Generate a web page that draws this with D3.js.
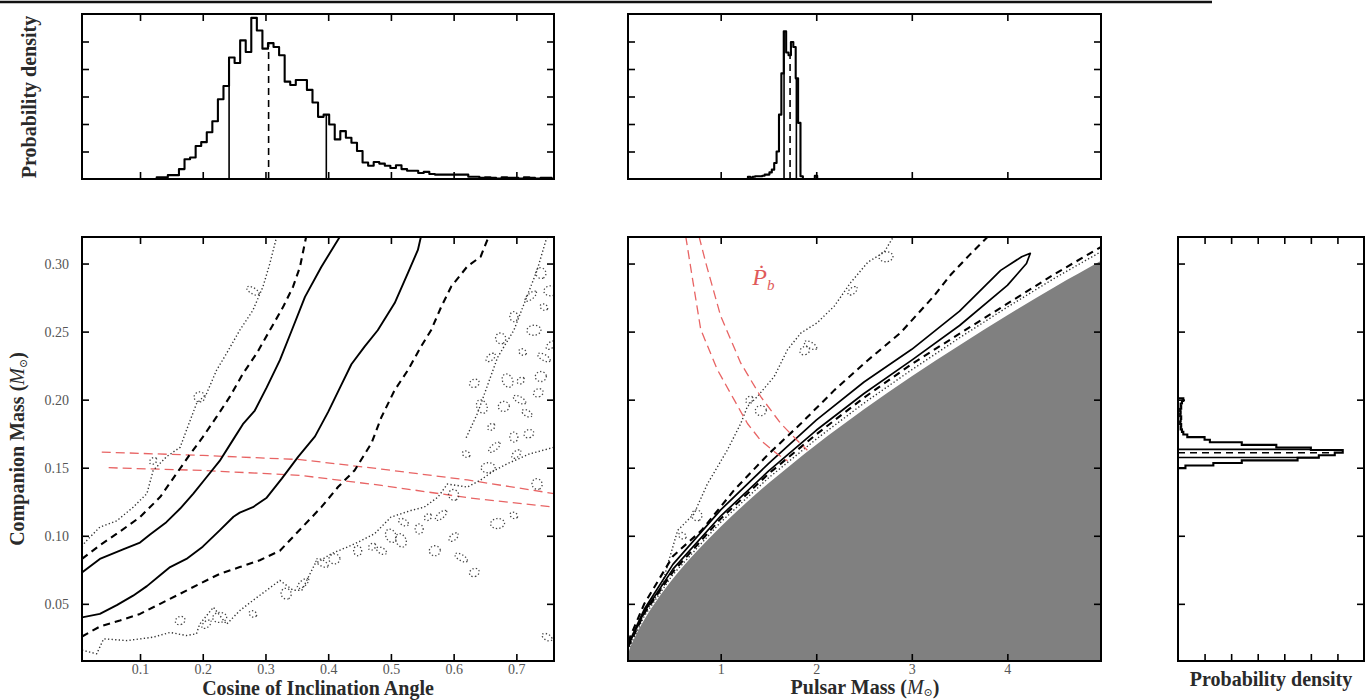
<!DOCTYPE html>
<html>
<head>
<meta charset="utf-8">
<script src="https://cdn.jsdelivr.net/npm/d3@7"></script>
<style>
body { margin: 0; background: #fff; }
svg text { font-family: "Liberation Serif", "DejaVu Serif", serif; }
</style>
</head>
<body>
<div id="plot"></div>
<script>
// ---- tick values ----
var cos_ticks = [0.1, 0.2, 0.3, 0.4, 0.5, 0.6, 0.7];
var mc_ticks = [0.05, 0.10, 0.15, 0.20, 0.25, 0.30];
var mp_ticks = [1, 2, 3, 4];
var dens_ticks_top = [1, 2, 3, 4, 5];
var dens_ticks_right = [1, 2, 3, 4, 5, 6];

// ---- histograms (equal bins: start, width, heights) ----
var cos_hist_start = 0.1266, cos_hist_width = 0.00887;
var cos_hist_values = [0.06,0.06,0.14,0.14,0.36,0.72,0.78,1.2,1.34,1.7,2.1,2.9,3.38,4.42,4.22,5.04,4.62,5.86,5.4,4.74,
    4.94,4.8,4.5,3.54,3.42,3.6,3.6,3.24,2.78,2.26,2.34,1.98,1.44,1.74,1.5,1.32,1.02,0.6,0.48,0.62,
    0.56,0.48,0.4,0.5,0.36,0.3,0.3,0.22,0.26,0.18,0.16,0.16,0.16,0.16,0.16,0.16,0.08,0.08,0.04,0.06,
    0.04,0.02,0.06,0.04,0.04,0.02,0.06,0.04,0.02,0.04,0.04];
var cos_interval = [0.242, 0.305, 0.397];

var mp_hist_start = 1.285, mp_hist_width = 0.025;
var mp_hist_values = [0.08,0.05,0.08,0.1,0.1,0.1,0.12,0.16,0.16,0.24,0.34,0.58,1.0,2.34,3.84,5.37,4.6,4.5,4.98,4.8,
    3.66,2.04,0.1,0,0,0,0,0,0.12];
var mp_interval = [1.663, 1.726, 1.792];

var mc_hist_start = 0.1497, mc_hist_width = 0.0019;
var mc_hist_values = [0.28,1.33,2.4,4.5,5.3,5.9,6.2,5.0,3.7,2.4,1.2,1.0,0.35,0.2,
    0.15,0.1,0.12,0.08,0.1,0.12,0.08,0.1,0.08,0.12,0.1,0.15,0.2];
var mc_interval = [0.1575, 0.161, 0.1635];

// ---- cos i vs companion mass contours ----
var left_solid_a = [[0.0075,0.073],[0.036,0.083],[0.073,0.09],[0.1,0.095],[0.116,0.101],[0.142,0.11],[0.164,0.12],
    [0.185,0.131],[0.206,0.143],[0.227,0.155],[0.249,0.171],[0.264,0.182],[0.283,0.192],[0.302,0.209],[0.323,0.229],
    [0.342,0.251],[0.363,0.2755],[0.389,0.2975],[0.419,0.32]];
var left_solid_b = [[0.0075,0.04],[0.036,0.0426],[0.063,0.049],[0.089,0.056],[0.111,0.063],[0.132,0.071],[0.148,0.077],
    [0.174,0.083],[0.2,0.092],[0.227,0.104],[0.249,0.114],[0.259,0.117],[0.28,0.121],[0.302,0.128],[0.326,0.142],
    [0.352,0.158],[0.379,0.173],[0.4,0.191],[0.419,0.209],[0.437,0.226],[0.458,0.239],[0.479,0.251],[0.506,0.271],
    [0.527,0.293],[0.543,0.31],[0.548,0.32]];
var left_dash_a = [[0.0075,0.083],[0.036,0.093],[0.063,0.1015],[0.1,0.1137],[0.132,0.1284],[0.158,0.1456],[0.18,0.16],
    [0.2,0.1725],[0.222,0.1873],[0.243,0.202],[0.264,0.219],[0.286,0.234],[0.307,0.251],[0.328,0.268],[0.344,0.283],
    [0.355,0.2975],[0.365,0.32]];
var left_dash_b = [[0.0075,0.026],[0.036,0.0333],[0.068,0.0377],[0.1,0.0426],[0.132,0.05],[0.164,0.0574],[0.195,0.0647],
    [0.227,0.072],[0.259,0.077],[0.291,0.082],[0.323,0.089],[0.358,0.106],[0.389,0.121],[0.416,0.136],[0.442,0.148],
    [0.469,0.168],[0.485,0.1873],[0.506,0.207],[0.527,0.2216],[0.548,0.239],[0.564,0.251],[0.58,0.268],[0.596,0.283],
    [0.622,0.298],[0.643,0.305],[0.656,0.32]];
var left_dot_a = [[0.0075,0.092],[0.0125,0.0953],[0.036,0.1064],[0.063,0.111],[0.089,0.121],[0.111,0.131],[0.121,0.148],
    [0.142,0.158],[0.164,0.165],[0.174,0.1775],[0.19,0.197],[0.206,0.2044],[0.222,0.2216],[0.238,0.234],[0.259,0.251],
    [0.28,0.2657],[0.296,0.283],[0.307,0.30],[0.318,0.32]];
var left_dot_b = [[0.0075,0.016],[0.02,0.0145],[0.031,0.0133],[0.042,0.0243],[0.079,0.023],[0.121,0.0255],[0.148,0.029],
    [0.174,0.0267],[0.19,0.028],[0.195,0.035],[0.217,0.0475],[0.238,0.035],[0.259,0.045],[0.28,0.0525],[0.302,0.06],
    [0.323,0.0672],[0.344,0.06],[0.358,0.06],[0.379,0.0794],[0.405,0.0868],[0.442,0.094],[0.474,0.1015],[0.5,0.1137],
    [0.532,0.1186],[0.553,0.121],[0.575,0.1284],[0.59,0.138],[0.622,0.1358],[0.643,0.141],[0.665,0.148],[0.686,0.153],
    [0.72,0.16],[0.76,0.165]];
var left_dot_c = [[0.62,0.172],[0.638,0.19],[0.67,0.231],[0.696,0.251],[0.733,0.295],[0.749,0.32]];
var left_blobs = [[0.121,0.155],[0.195,0.202],[0.28,0.28],[0.164,0.0377],[0.206,0.035],[0.227,0.04],[0.28,0.0426],
    [0.333,0.0574],[0.36,0.065],[0.447,0.089],[0.485,0.089],[0.516,0.0966],[0.559,0.1137],[0.57,0.089],[0.612,0.084],
    [0.633,0.073],[0.6,0.099],[0.67,0.109],[0.696,0.115],[0.733,0.138],[0.665,0.165],[0.696,0.1725],[0.717,0.19],
    [0.686,0.214],[0.707,0.214],[0.739,0.217],[0.744,0.231],[0.633,0.212],[0.659,0.231],[0.728,0.251],[0.744,0.268],
    [0.739,0.293],[0.723,0.276],[0.696,0.261],[0.749,0.0255],
    [0.645,0.195],[0.66,0.18],[0.68,0.195],[0.705,0.2],[0.72,0.175],[0.7,0.16],[0.655,0.15],[0.62,0.16],[0.6,0.13],
    [0.58,0.115],[0.545,0.105],[0.52,0.11],[0.5,0.1],[0.47,0.092],[0.41,0.083],[0.39,0.08],[0.735,0.205],[0.755,0.24],
    [0.755,0.28],[0.71,0.235],[0.675,0.245]];
var left_red_a = [[0.039,0.1615],[0.2,0.159],[0.355,0.156],[0.485,0.149],[0.622,0.141],[0.76,0.131]];
var left_red_b = [[0.05,0.15],[0.2,0.148],[0.355,0.1444],[0.485,0.137],[0.622,0.128],[0.76,0.121]];

// ---- pulsar mass vs companion mass ----
var mid_bound = [[0,0],[0.03,0.012],[0.1,0.025],[0.2,0.0383],[0.35,0.0545],[0.5,0.0684],[0.75,0.0886],[1.0,0.1067],
    [1.25,0.1232],[1.5,0.1386],[1.75,0.153],[2.0,0.1669],[2.5,0.193],[3.0,0.2172],[3.5,0.240],[4.0,0.262],[4.5,0.283],
    [4.98,0.302],[5.1,0.307]];
var mid_dot_b = [[0.03,0.016],[0.2,0.041],[0.5,0.0715],[1.0,0.110],[1.5,0.1425],[2.0,0.171],[2.5,0.1975],[3.0,0.222],
    [3.5,0.2455],[4.0,0.268],[4.5,0.2895],[5.0,0.3095]];
var mid_dash_b = [[0.03,0.018],[0.2,0.043],[0.5,0.0735],[1.0,0.1125],[1.5,0.1455],[2.0,0.1745],[2.5,0.2015],[3.0,0.2262],
    [3.5,0.2485],[4.0,0.2705],[4.5,0.2925],[5.0,0.313]];
var mid_solid = [[0.03,0.02],[0.2,0.046],[0.5,0.079],[1.0,0.119],[1.5,0.153],[2.0,0.185],[2.5,0.213],[3.0,0.237],
    [3.5,0.265],[3.93,0.295],[4.15,0.305],[4.24,0.3075],[4.2,0.300],[4.0,0.284],[3.5,0.2545],[3.0,0.229],[2.5,0.2045],
    [2.0,0.1775],[1.5,0.1475],[1.0,0.1145],[0.5,0.0755],[0.2,0.044],[0.03,0.019]];
var mid_dash_a = [[0.03,0.022],[0.2,0.05],[0.5,0.085],[0.8,0.104],[1.14,0.1335],[1.5,0.16],[1.84,0.1825],[2.19,0.207],
    [2.54,0.229],[2.88,0.249],[3.23,0.276],[3.41,0.292],[3.6,0.306],[3.8,0.32]];
var mid_dot_a = [[0.03,0.02],[0.058,0.024],[0.2,0.043],[0.37,0.06],[0.45,0.08],[0.55,0.104],[0.72,0.116],[0.86,0.138],
    [1.07,0.163],[1.21,0.1825],[1.28,0.195],[1.38,0.202],[1.56,0.217],[1.7,0.2368],[1.84,0.249],[2.01,0.2565],
    [2.19,0.2688],[2.36,0.286],[2.54,0.301],[2.71,0.3083],[2.81,0.32]];
var mid_blobs = [[1.3,0.2],[1.42,0.192],[1.94,0.24],[1.88,0.236],[2.38,0.28],[2.73,0.305],[0.6,0.1],[0.75,0.115]];
var pb_dot_a = [[0.634,0.32],[0.7,0.291],[0.791,0.2516],[0.965,0.222],[1.14,0.20],[1.28,0.1825],[1.419,0.170],
    [1.593,0.160],[1.70,0.155]];
var pb_dot_b = [[0.773,0.32],[0.85,0.299],[1.0,0.2614],[1.209,0.227],[1.419,0.2022],[1.628,0.1825],[1.802,0.170],
    [1.907,0.1628]];
var pb_label_at = [1.33, 0.284];

// ---- layout ----
var W = 1370, H = 700;
var box_left = {x0: 82, x1: 554, y0: 237, y1: 661};
var box_mid = {x0: 628, x1: 1101, y0: 237, y1: 661};
var box_right = {x0: 1178, x1: 1364, y0: 237, y1: 661};
var box_top_left = {x0: 82, x1: 554, y0: 14, y1: 179};
var box_top_mid = {x0: 628, x1: 1101, y0: 14, y1: 179};

var svg = d3.select("div#plot").append("svg")
    .attr("width", W).attr("height", H)
    .attr("viewBox", "0 0 " + W + " " + H);

var x_cos = d3.scaleLinear().domain([0.0075, 0.76]).range([box_left.x0, box_left.x1]);
var x_mp = d3.scaleLinear().domain([0.03, 4.98]).range([box_mid.x0, box_mid.x1]);
var y_mc = d3.scaleLinear().domain([0.008, 0.3195]).range([box_left.y1, box_left.y0]);
var x_dens = d3.scaleLinear().domain([0, 7]).range([box_right.x0, box_right.x1]);
var y_dens = d3.scaleLinear().domain([0, 6]).range([box_top_left.y1, box_top_left.y0]);

// rule at the top of the page
svg.append("line")
    .attr("x1", 0).attr("x2", 1212).attr("y1", 2).attr("y2", 2)
    .style("stroke", "#111").style("stroke-width", 2.5);

var clip_n = 0;
function make_panel(box, xs, ys, x_ticks, y_ticks, x_fmt, y_fmt) {
    var id = "clip" + (clip_n++);
    svg.append("clipPath").attr("id", id)
        .append("rect")
        .attr("x", box.x0).attr("y", box.y0)
        .attr("width", box.x1 - box.x0).attr("height", box.y1 - box.y0);
    var g = svg.append("g").attr("clip-path", "url(#" + id + ")");
    var blank = function() { return ""; };

    var axes = svg.append("g").attr("class", "axes");
    axes.append("g").attr("transform", "translate(0," + box.y1 + ")")
        .call(d3.axisBottom(xs).tickValues(x_ticks).tickSize(-7).tickSizeOuter(0)
            .tickPadding(3).tickFormat(x_fmt || blank));
    axes.append("g").attr("transform", "translate(0," + box.y0 + ")")
        .call(d3.axisTop(xs).tickValues(x_ticks).tickSize(-7).tickSizeOuter(0).tickFormat(blank));
    axes.append("g").attr("transform", "translate(" + box.x0 + ",0)")
        .call(d3.axisLeft(ys).tickValues(y_ticks).tickSize(-7).tickSizeOuter(0)
            .tickPadding(13).tickFormat(y_fmt || blank));
    axes.append("g").attr("transform", "translate(" + box.x1 + ",0)")
        .call(d3.axisRight(ys).tickValues(y_ticks).tickSize(-7).tickSizeOuter(0).tickFormat(blank));
    axes.selectAll(".domain").remove();
    axes.selectAll(".tick line").style("stroke", "#000").style("stroke-width", 1.6);
    axes.selectAll(".tick text")
        .style("font-size", "14px").style("fill", "#555");

    svg.append("rect")
        .attr("x", box.x0).attr("y", box.y0)
        .attr("width", box.x1 - box.x0).attr("height", box.y1 - box.y0)
        .style("fill", "none").style("stroke", "#000").style("stroke-width", 2);
    return g;
}

function draw_line(g, pts, xs, ys, kind, colour) {
    var line = d3.line().x(function(d) { return xs(d[0]); }).y(function(d) { return ys(d[1]); });
    var p = g.append("path").datum(pts).attr("d", line)
        .style("fill", "none").style("stroke", colour || "#000")
        .style("stroke-linejoin", "round");
    if (kind === "solid") p.style("stroke-width", 1.9);
    if (kind === "dash") p.style("stroke-width", 2.1).style("stroke-dasharray", "7,5");
    if (kind === "dot") p.style("stroke-width", 1.4).style("stroke-dasharray", "1.3,2.3").style("stroke", "#333");
    if (kind === "red") p.style("stroke-width", 1.3).style("stroke-dasharray", "9,5");
    return p;
}

// small closed dotted loops of the noisy 3-sigma contour
function draw_blobs(g, pts, xs, ys) {
    g.selectAll(null).data(pts).join("ellipse")
        .attr("cx", function(d) { return xs(d[0]); })
        .attr("cy", function(d) { return ys(d[1]); })
        .attr("rx", function(d, i) { return 4 + (i % 3) * 1.5; })
        .attr("ry", function(d, i) { return 3 + (i % 2) * 2; })
        .attr("transform", function(d, i) {
            return "rotate(" + ((i % 4) * 35 - 40) + "," + xs(d[0]) + "," + ys(d[1]) + ")";
        })
        .style("fill", "none").style("stroke", "#444")
        .style("stroke-width", 1.3).style("stroke-dasharray", "1.3,2.1");
}

function step_points(start, width, values) {
    var pts = [[start, 0]];
    values.forEach(function(v, i) {
        pts.push([start + i * width, v]);
        pts.push([start + (i + 1) * width, v]);
    });
    pts.push([start + values.length * width, 0]);
    return pts;
}

function bin_height(start, width, values, v) {
    var i = Math.floor((v - start) / width);
    return values[Math.max(0, Math.min(values.length - 1, i))];
}

// ---- top-left histogram: cosine of inclination ----
var g_tl = make_panel(box_top_left, x_cos, y_dens, cos_ticks, dens_ticks_top);
draw_line(g_tl, step_points(cos_hist_start, cos_hist_width, cos_hist_values), x_cos, y_dens, "solid")
    .style("stroke-width", 2.1);
cos_interval.forEach(function(v, i) {
    var h = bin_height(cos_hist_start, cos_hist_width, cos_hist_values, v);
    draw_line(g_tl, [[v, 0], [v, h]], x_cos, y_dens, i === 1 ? "dash" : "solid").style("stroke-width", 1.6);
});

// ---- top-middle histogram: pulsar mass ----
var g_tm = make_panel(box_top_mid, x_mp, y_dens, mp_ticks, dens_ticks_top);
draw_line(g_tm, step_points(mp_hist_start, mp_hist_width, mp_hist_values), x_mp, y_dens, "solid")
    .style("stroke-width", 2.1);
mp_interval.forEach(function(v, i) {
    var h = bin_height(mp_hist_start, mp_hist_width, mp_hist_values, v);
    draw_line(g_tm, [[v, 0], [v, h]], x_mp, y_dens, i === 1 ? "dash" : "solid").style("stroke-width", 1.6);
});

// ---- left: cos i vs companion mass ----
var g_l = make_panel(box_left, x_cos, y_mc, cos_ticks, mc_ticks,
    function(d) { return d3.format(".1f")(d); },
    function(d) { return d3.format(".2f")(d); });
draw_line(g_l, left_red_a, x_cos, y_mc, "red", "#e86464");
draw_line(g_l, left_red_b, x_cos, y_mc, "red", "#e86464");
draw_line(g_l, left_dot_a, x_cos, y_mc, "dot");
draw_line(g_l, left_dot_b, x_cos, y_mc, "dot");
draw_line(g_l, left_dot_c, x_cos, y_mc, "dot");
draw_blobs(g_l, left_blobs, x_cos, y_mc);
draw_line(g_l, left_dash_a, x_cos, y_mc, "dash");
draw_line(g_l, left_dash_b, x_cos, y_mc, "dash");
draw_line(g_l, left_solid_a, x_cos, y_mc, "solid");
draw_line(g_l, left_solid_b, x_cos, y_mc, "solid");

// ---- middle: pulsar mass vs companion mass ----
var g_m = make_panel(box_mid, x_mp, y_mc, mp_ticks, mc_ticks,
    function(d) { return d; });
var fill_pts = mid_bound.concat([[5.1, 0], [0, 0]]);
g_m.append("path").datum(fill_pts)
    .attr("d", d3.line().x(function(d) { return x_mp(d[0]); }).y(function(d) { return y_mc(d[1]); }).curve(d3.curveMonotoneX))
    .style("fill", "#808080").style("stroke", "none");
draw_line(g_m, mid_dot_a, x_mp, y_mc, "dot");
draw_blobs(g_m, mid_blobs, x_mp, y_mc);
draw_line(g_m, mid_dot_b, x_mp, y_mc, "dot");
draw_line(g_m, mid_dash_a, x_mp, y_mc, "dash");
draw_line(g_m, mid_dash_b, x_mp, y_mc, "dash");
draw_line(g_m, mid_solid, x_mp, y_mc, "solid").style("stroke-width", 1.7);
draw_line(g_m, pb_dot_a, x_mp, y_mc, "red", "#e86464");
draw_line(g_m, pb_dot_b, x_mp, y_mc, "red", "#e86464");
var pb = g_m.append("text")
    .attr("x", x_mp(pb_label_at[0])).attr("y", y_mc(pb_label_at[1]))
    .style("fill", "#e05a5a").style("font-size", "24px").style("font-style", "italic");
pb.append("tspan").text("\u1E56");
pb.append("tspan").attr("dy", 5).style("font-size", "15px").text("b");

// ---- right histogram: companion mass ----
var g_r = make_panel(box_right, x_dens, y_mc, dens_ticks_right, mc_ticks);
var mc_steps = step_points(mc_hist_start, mc_hist_width, mc_hist_values);
g_r.append("path").datum(mc_steps)
    .attr("d", d3.line().x(function(d) { return x_dens(d[1]); }).y(function(d) { return y_mc(d[0]); }))
    .style("fill", "none").style("stroke", "#000").style("stroke-width", 2.1);
mc_interval.forEach(function(v, i) {
    var h = bin_height(mc_hist_start, mc_hist_width, mc_hist_values, v);
    g_r.append("line")
        .attr("x1", x_dens(0)).attr("x2", x_dens(h))
        .attr("y1", y_mc(v)).attr("y2", y_mc(v))
        .style("stroke", "#000").style("stroke-width", 1.6)
        .style("stroke-dasharray", i === 1 ? "7,5" : null);
});

// ---- axis titles ----
function title(x, y, rot) {
    return svg.append("text")
        .attr("transform", "translate(" + x + "," + y + ")" + (rot ? " rotate(-90)" : ""))
        .attr("text-anchor", "middle")
        .style("font-size", "20px").style("font-weight", "bold").style("fill", "#2a2a2a");
}
title(318, 695).text("Cosine of Inclination Angle");
var t_pm = title(865, 694);
t_pm.append("tspan").text("Pulsar Mass (");
t_pm.append("tspan").style("font-style", "italic").style("font-weight", "normal").text("M");
t_pm.append("tspan").attr("dy", 2).style("font-size", "11px").style("font-weight", "normal").text("\u2299");
t_pm.append("tspan").attr("dy", -2).text(")");
title(1271, 686).text("Probability density");
title(36, 97, true).text("Probability density");
var t_cm = title(24, 449, true);
t_cm.append("tspan").text("Companion Mass (");
t_cm.append("tspan").style("font-style", "italic").style("font-weight", "normal").text("M");
t_cm.append("tspan").attr("dy", 3).style("font-size", "11px").style("font-weight", "normal").text("\u2299");
t_cm.append("tspan").attr("dy", -3).text(")");
</script>
</body>
</html>
